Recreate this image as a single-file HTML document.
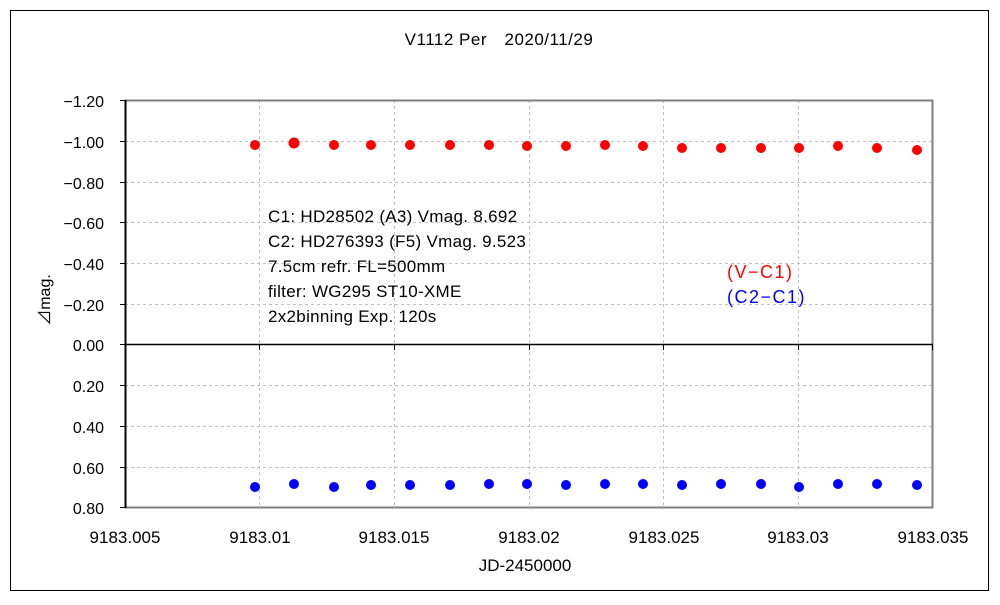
<!DOCTYPE html>
<html><head><meta charset="utf-8"><style>
body{margin:0;background:#fff;}
svg text{font-family:"Liberation Sans","Noto Sans CJK JP",sans-serif;}
</style></head><body>
<svg width="1000" height="600" xmlns="http://www.w3.org/2000/svg">
<rect x="0" y="0" width="1000" height="600" fill="#fff"/>
<rect x="10.5" y="10.5" width="978" height="580" fill="none" stroke="#000" stroke-width="1"/>
<text x="499" y="45" font-size="17" text-anchor="middle" fill="#000" letter-spacing="0.5">V1112 Per　2020/11/29</text>
<g stroke="#c0c0c0" stroke-dasharray="3,3" stroke-width="1">
<line x1="125" x2="933" y1="141.5" y2="141.5"/><line x1="125" x2="933" y1="182.5" y2="182.5"/>
<line x1="125" x2="933" y1="222.5" y2="222.5"/><line x1="125" x2="933" y1="263.5" y2="263.5"/>
<line x1="125" x2="933" y1="304.5" y2="304.5"/><line x1="125" x2="933" y1="385.5" y2="385.5"/>
<line x1="125" x2="933" y1="426.5" y2="426.5"/><line x1="125" x2="933" y1="467.5" y2="467.5"/>
<line x1="259.5" x2="259.5" y1="100" y2="508"/><line x1="394.5" x2="394.5" y1="100" y2="508"/>
<line x1="529.5" x2="529.5" y1="100" y2="508"/><line x1="663.5" x2="663.5" y1="100" y2="508"/>
<line x1="798.5" x2="798.5" y1="100" y2="508"/>
</g>
<rect x="125.5" y="100.5" width="807" height="407" fill="none" stroke="#808080" stroke-width="2"/>
<line x1="125.5" x2="125.5" y1="100" y2="508" stroke="#000" stroke-width="2"/>
<line x1="125" x2="933" y1="344.5" y2="344.5" stroke="#000" stroke-width="1.5"/>
<g stroke="#000" stroke-width="1">
<line x1="259.5" x2="259.5" y1="344" y2="350"/><line x1="394.5" x2="394.5" y1="344" y2="350"/>
<line x1="529.5" x2="529.5" y1="344" y2="350"/><line x1="663.5" x2="663.5" y1="344" y2="350"/>
<line x1="798.5" x2="798.5" y1="344" y2="350"/><line x1="932.5" x2="932.5" y1="344" y2="350"/>
<line x1="120" x2="125" y1="100.5" y2="100.5"/><line x1="120" x2="125" y1="141.5" y2="141.5"/>
<line x1="120" x2="125" y1="182.5" y2="182.5"/><line x1="120" x2="125" y1="222.5" y2="222.5"/>
<line x1="120" x2="125" y1="263.5" y2="263.5"/><line x1="120" x2="125" y1="304.5" y2="304.5"/>
<line x1="120" x2="125" y1="344.5" y2="344.5"/><line x1="120" x2="125" y1="385.5" y2="385.5"/>
<line x1="120" x2="125" y1="426.5" y2="426.5"/><line x1="120" x2="125" y1="467.5" y2="467.5"/>
<line x1="120" x2="125" y1="507.5" y2="507.5"/>
</g>
<g font-size="16" text-anchor="end" fill="#000">
<text x="104" y="107">−1.20</text><text x="104" y="148">−1.00</text><text x="104" y="189">−0.80</text>
<text x="104" y="229">−0.60</text><text x="104" y="270">−0.40</text><text x="104" y="311">−0.20</text>
<text x="104" y="351">0.00</text><text x="104" y="392">0.20</text><text x="104" y="433">0.40</text>
<text x="104" y="474">0.60</text><text x="104" y="514">0.80</text>
</g>
<g font-size="17" text-anchor="middle" fill="#000">
<text x="125" y="543">9183.005</text><text x="260" y="543">9183.01</text><text x="394" y="543">9183.015</text>
<text x="529" y="543">9183.02</text><text x="664" y="543">9183.025</text><text x="798" y="543">9183.03</text>
<text x="933" y="543">9183.035</text>
<text x="525" y="571">JD-2450000</text>
</g>
<text transform="translate(50,300) rotate(-90)" font-size="16" text-anchor="middle">⊿mag.</text>
<g font-size="17" fill="#000" letter-spacing="0.3">
<text x="268" y="222">C1: HD28502 (A3) Vmag. 8.692</text>
<text x="268" y="247">C2: HD276393 (F5) Vmag. 9.523</text>
<text x="268" y="272">7.5cm refr. FL=500mm</text>
<text x="268" y="297">filter: WG295  ST10-XME</text>
<text x="268" y="322">2x2binning  Exp. 120s</text>
</g>
<text x="727" y="278" font-size="18" fill="#ff0000" letter-spacing="1.5">(V−C1)</text>
<text x="727" y="303" font-size="18" fill="#0000ff" letter-spacing="1.5">(C2−C1)</text>
<g fill="#ff0000">
<circle cx="255" cy="145" r="5"/><circle cx="294" cy="143" r="5.5"/><circle cx="334" cy="145" r="5"/>
<circle cx="371" cy="145" r="5"/><circle cx="410" cy="145" r="5"/><circle cx="450" cy="145" r="5"/>
<circle cx="489" cy="145" r="5"/><circle cx="527" cy="146" r="5"/><circle cx="566" cy="146" r="5"/>
<circle cx="605" cy="145" r="5"/><circle cx="643" cy="146" r="5"/><circle cx="682" cy="148" r="5"/>
<circle cx="721" cy="148" r="5"/><circle cx="761" cy="148" r="5"/><circle cx="799" cy="148" r="5"/>
<circle cx="838" cy="146" r="5"/><circle cx="877" cy="148" r="5"/><circle cx="917" cy="150" r="5"/>
</g>
<g fill="#0000ff">
<circle cx="255" cy="487" r="5"/><circle cx="294" cy="484" r="5"/><circle cx="334" cy="487" r="5"/>
<circle cx="371" cy="485" r="5"/><circle cx="410" cy="485" r="5"/><circle cx="450" cy="485" r="5"/>
<circle cx="489" cy="484" r="5"/><circle cx="527" cy="484" r="5"/><circle cx="566" cy="485" r="5"/>
<circle cx="605" cy="484" r="5"/><circle cx="643" cy="484" r="5"/><circle cx="682" cy="485" r="5"/>
<circle cx="721" cy="484" r="5"/><circle cx="761" cy="484" r="5"/><circle cx="799" cy="487" r="5"/>
<circle cx="838" cy="484" r="5"/><circle cx="877" cy="484" r="5"/><circle cx="917" cy="485" r="5"/>
</g>
</svg>
</body></html>
